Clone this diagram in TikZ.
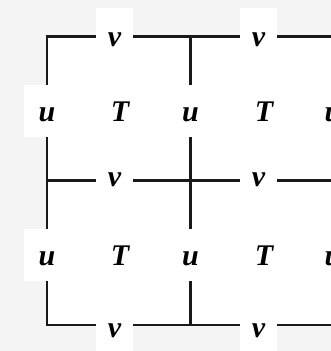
\documentclass[tikz,border=0pt]{standalone}
\usepackage{fontspec}
\setmainfont{Liberation Serif}
\definecolor{bggray}{RGB}{244,244,244}
\definecolor{linec}{RGB}{25,25,25}
\tikzset{
  lab/.style={inner sep=0pt, font=\fontsize{30}{30}\selectfont\bfseries\itshape, text height=22pt, text depth=0pt},
  ulab/.style={lab, fill=white, minimum width=46pt, minimum height=52pt},
  vlab/.style={lab, fill=white, minimum width=37pt, minimum height=57pt, text height=21pt},
  tlab/.style={lab},
  gridline/.style={draw=linec, line width=2.3pt}
}
\begin{document}
\begin{tikzpicture}[x=1pt,y=1pt]
\useasboundingbox (0,0) rectangle (331,351);
\fill[bggray] (0,0) rectangle (331,351);
% corners
\coordinate (c00) at (47,314.5);
\coordinate (c10) at (190.5,314.5);
\coordinate (c20) at (334,314.5);
\coordinate (c01) at (47,170.5);
\coordinate (c11) at (190.5,170.5);
\coordinate (c21) at (334,170.5);
\coordinate (c02) at (47,26);
\coordinate (c12) at (190.5,26);
\coordinate (c22) at (334,26);
\fill[white] (c02) rectangle (c20);
% v labels on horizontal edges
\node[vlab] (v00) at (114.5,314.5) {v};
\node[vlab] (v10) at (258.5,314.5) {v};
\node[vlab] (v01) at (114.5,174.5) {v};
\node[vlab] (v11) at (258.5,174.5) {v};
\node[vlab] (v02) at (114.5,23.5) {v};
\node[vlab] (v12) at (258.5,23.5) {v};
% u labels on vertical edges
\node[ulab] (u00) at (47,240) {u};
\node[ulab] (u10) at (190.5,240) {u};
\node[ulab] (u20) at (333,240) {u};
\node[ulab] (u01) at (47,96) {u};
\node[ulab] (u11) at (190.5,96) {u};
\node[ulab] (u21) at (333,96) {u};
% T labels in cells
\node[tlab] (t00) at (120,240) {T};
\node[tlab] (t10) at (264,240) {T};
\node[tlab] (t01) at (120,96) {T};
\node[tlab] (t11) at (264,96) {T};
% horizontal lines
\draw[gridline] (v00.west |- c00) -- (c00) -- (u00.north -| c00);
\draw[gridline] (v00.east |- c00) -- (v10.west |- c10);
\draw[gridline] (v10.east |- c10) -- (c20);
\draw[gridline] (c01) -- (v01.west |- c01);
\draw[gridline] (v01.east |- c01) -- (v11.west |- c11);
\draw[gridline] (v11.east |- c11) -- (c21);
\draw[gridline] (u01.south -| c02) -- (c02) -- (v02.west |- c02);
\draw[gridline] (v02.east |- c02) -- (v12.west |- c12);
\draw[gridline] (v12.east |- c12) -- (c22);
% vertical lines
\draw[gridline] (u00.south -| c01) -- (u01.north -| c01);
\draw[gridline] (c10) -- (u10.north -| c10);
\draw[gridline] (u10.south -| c11) -- (u11.north -| c11);
\draw[gridline] (u11.south -| c12) -- (c12);
\draw[gridline] (c20) -- (u20.north -| c20);
\draw[gridline] (u20.south -| c21) -- (u21.north -| c21);
\draw[gridline] (u21.south -| c22) -- (c22);
\end{tikzpicture}
\end{document}
